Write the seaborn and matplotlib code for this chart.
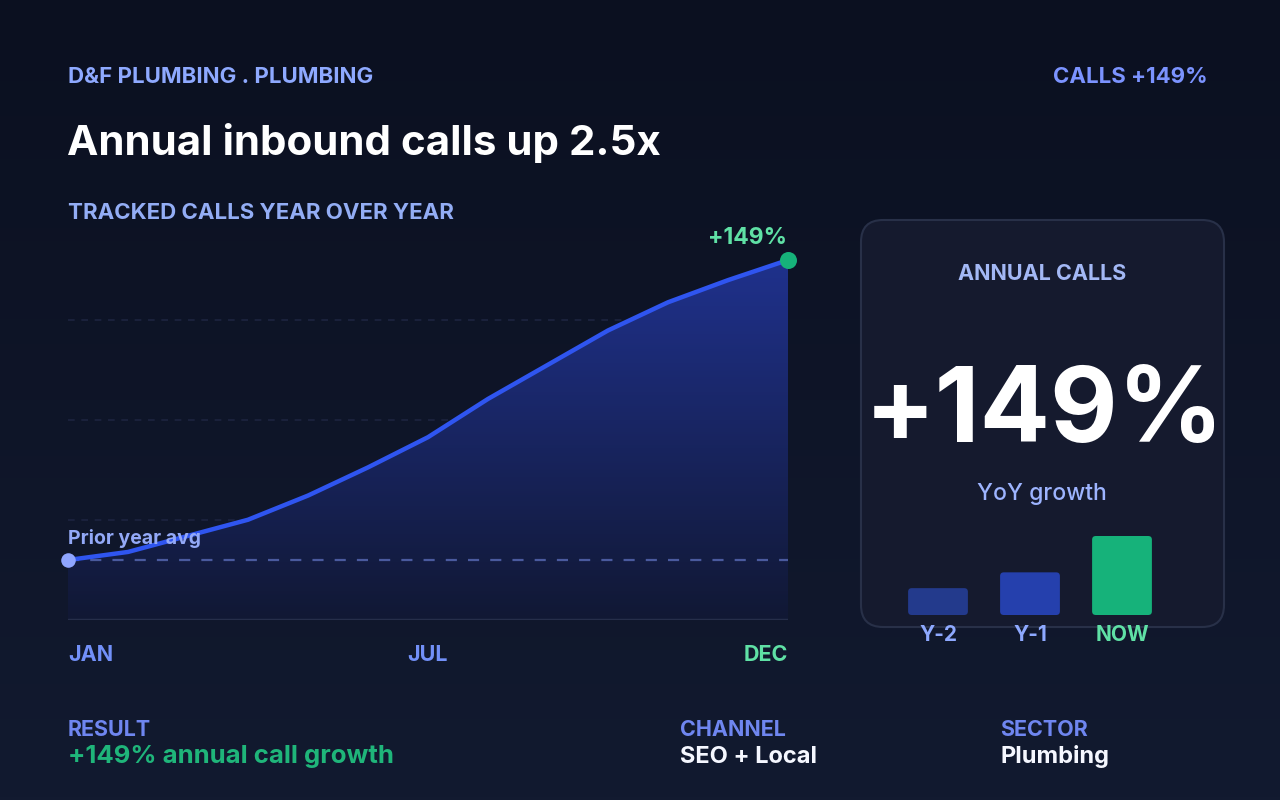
import numpy as np
import matplotlib
matplotlib.use("Agg")
import matplotlib.pyplot as plt
from matplotlib.patches import FancyBboxPatch
import seaborn as sns

# data
points = list(range(13))
calls = [100, 104, 112, 120, 132, 146, 161, 180, 197, 214, 228, 239, 249]
prior_avg = 100
month_ticks = [0, 6, 12]
month_labels = ["JAN", "JUL", "DEC"]
years = ["Y-2", "Y-1", "NOW"]
annual = [34, 54, 100]

sns.set_theme(style="dark")
plt.rcParams["font.family"] = ["Inter", "DejaVu Sans"]

BG_TOP = np.array([11, 16, 32]) / 255
BG_BOT = np.array([18, 26, 48]) / 255
BLUE = "#2f55f0"
GREEN = "#16b27a"
LIGHT_GREEN = "#5fe0a5"
PERI = "#8ea9ff"
PERI2 = "#7290f8"

fig = plt.figure(figsize=(12.8, 8), dpi=100)

# background layer in pixel coords
bg = fig.add_axes([0, 0, 1, 1])
bg.set_xlim(0, 1280)
bg.set_ylim(800, 0)
bg.axis("off")
t = np.linspace(0, 1, 256)[:, None]
grad = BG_TOP + (BG_BOT - BG_TOP) * t
bg.imshow(np.repeat(grad[:, None, :], 2, axis=1),
          extent=[0, 1280, 800, 0], aspect="auto", zorder=0)

bg.text(68, 83, "D&F PLUMBING . PLUMBING", color=PERI, fontsize=16, fontweight="bold", va="baseline")
bg.text(1208, 83, "CALLS +149%", color="#7b93ff", fontsize=16, fontweight="bold", va="baseline", ha="right")
bg.text(67, 155, "Annual inbound calls up 2.5x", color="white", fontsize=30.3, fontweight="bold", va="baseline")
bg.text(68, 219, "TRACKED CALLS YEAR OVER YEAR", color="#93adf5", fontsize=16, fontweight="bold", va="baseline")

# card
card = FancyBboxPatch((861, 220), 363, 407, boxstyle="round,pad=0,rounding_size=22",
                      fc="#151a2e", ec="#283048", lw=1.5, zorder=1)
bg.add_patch(card)
bg.text(1042, 280, "ANNUAL CALLS", color="#a3b8f5", fontsize=15.5, fontweight="bold", ha="center", va="baseline", zorder=2)
bg.text(1045, 442, "+149%", color="white", fontsize=75, fontweight="bold", ha="center", va="baseline", zorder=2)
bg.text(1042, 500, "YoY growth", color="#9db4ff", fontsize=16.5, fontweight="medium", ha="center", va="baseline", zorder=2)

# footer
bg.text(68, 736, "RESULT", color="#6f86f0", fontsize=15.5, fontweight="bold", va="baseline")
bg.text(68, 763, "+149% annual call growth", color="#1fb57a", fontsize=18.5, fontweight="bold", va="baseline")
bg.text(680, 736, "CHANNEL", color="#6f86f0", fontsize=15.5, fontweight="bold", va="baseline")
bg.text(680, 763, "SEO + Local", color="#f5f7ff", fontsize=17, fontweight="bold", va="baseline")
bg.text(1000, 736, "SECTOR", color="#6f86f0", fontsize=15.5, fontweight="bold", va="baseline")
bg.text(1000, 763, "Plumbing", color="#f5f7ff", fontsize=17, fontweight="bold", va="baseline")

# line chart
ymin = prior_avg - 60 * 149 / 300
ymax = prior_avg + 340 * 149 / 300
ax = fig.add_axes([68 / 1280, 1 - 620 / 800, 720 / 1280, 400 / 800])
ax.set_facecolor("none")
ax.set_xlim(0, 12)
ax.set_ylim(ymin, ymax)

fill_top = np.array([33, 52, 150]) / 255
fill_bot = np.array([17, 24, 52]) / 255
g = np.linspace(0, 1, 256)[:, None]
fg = fill_bot + (fill_top - fill_bot) * g
img = ax.imshow(np.repeat(fg[:, None, :], 2, axis=1), extent=[0, 12, ymin, ymax],
                origin="lower", aspect="auto", zorder=1)
poly = ax.fill_between(points, calls, ymin, color="none", lw=0)
img.set_clip_path(poly.get_paths()[0], transform=ax.transData)

for k in (1, 2, 3):
    ax.axhline(ymin + k * (ymax - ymin) / 4, color="#1d2440", lw=1.2, ls=(0, (4, 4)), zorder=0.5)
ax.axhline(prior_avg, color="#4a5a9e", lw=1.6, ls=(0, (5, 5)), zorder=2)
ax.axhline(ymin, color="#262e4a", lw=2.5, zorder=2)

sns.lineplot(x=points, y=calls, ax=ax, color=BLUE, lw=3.2, zorder=3)
ax.scatter([points[0]], [calls[0]], s=110, color="#8fa5ff", zorder=4, clip_on=False, lw=0)
ax.scatter([points[-1]], [calls[-1]], s=150, color=GREEN, zorder=4, clip_on=False, lw=0)
ax.text(points[-1] - 0.01, calls[-1] + 8, "+149%", color=LIGHT_GREEN, fontsize=16.5,
        fontweight="bold", ha="right", va="baseline")
ax.text(0, prior_avg + 8, "Prior year avg", color="#93a9f7", fontsize=14,
        fontweight="bold", ha="left", va="baseline", zorder=5)

ax.set_xticks(month_ticks)
ax.set_xticklabels(month_labels, fontsize=15.5, fontweight="bold")
ax.tick_params(axis="x", length=0, pad=18)
tl = ax.get_xticklabels()
tl[0].set_ha("left")
tl[-1].set_ha("right")
for lab, c in zip(tl, [PERI2, PERI2, LIGHT_GREEN]):
    lab.set_color(c)
ax.set_yticks([])
ax.grid(False)
for s in ax.spines.values():
    s.set_visible(False)
ax.set_xlabel("")
ax.set_ylabel("")

# mini bars
bax = fig.add_axes([892 / 1280, 1 - 615 / 800, 276 / 1280, 79 / 800])
bax.set_facecolor("none")
sns.barplot(x=years, y=annual, hue=years, palette=["#233a8c", "#2540ad", GREEN],
            width=0.65, ax=bax, legend=False, saturation=1, linewidth=0, edgecolor="none")
# soften bar corners (x unit = 92 px, y unit = 0.79 px)
for p in list(bax.patches):
    x0, y0 = p.get_x(), p.get_y()
    w, h = p.get_width(), p.get_height()
    fc = p.get_facecolor()
    p.remove()
    bax.add_patch(FancyBboxPatch((x0, y0), w, h, boxstyle="round,pad=0,rounding_size=0.04",
                                 mutation_aspect=92 / 0.79, fc=fc, ec="none", lw=0))
bax.set_ylim(0, 100)
bax.set_xlim(-0.5, 2.5)
bax.set_yticks([])
bax.grid(False)
for s in bax.spines.values():
    s.set_visible(False)
bax.tick_params(axis="x", length=0, pad=7, labelsize=15)
for lab, c in zip(bax.get_xticklabels(), [PERI, PERI, LIGHT_GREEN]):
    lab.set_color(c)
    lab.set_fontweight("bold")
bax.set_xlabel("")
bax.set_ylabel("")

fig.savefig("out.png", dpi=100)
